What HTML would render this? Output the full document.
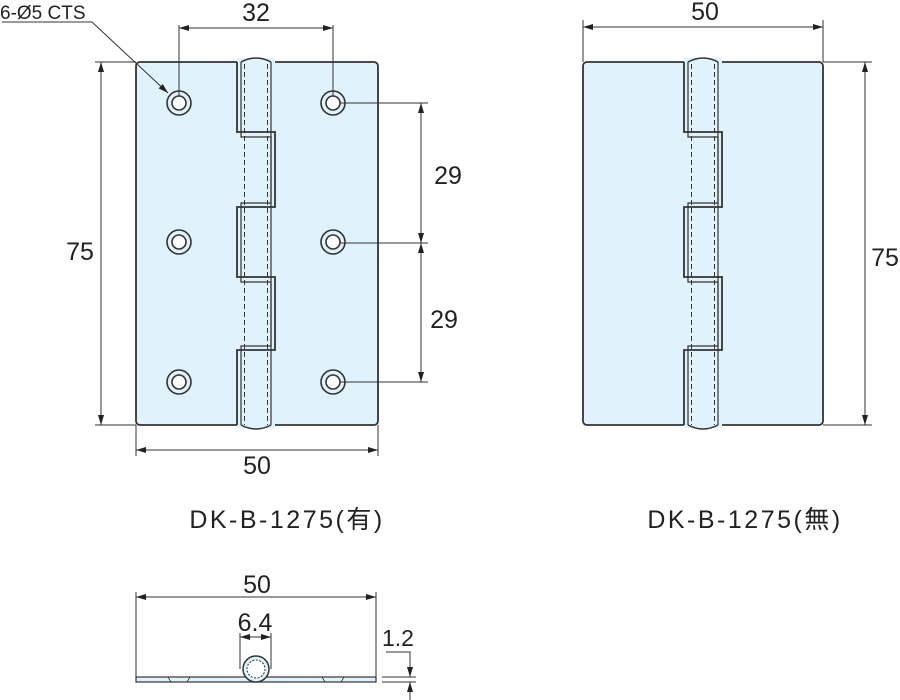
<!DOCTYPE html>
<html><head><meta charset="utf-8"><style>body{margin:0;background:#fff}svg{display:block}text{font-family:"Liberation Sans","Noto Sans CJK JP",sans-serif;fill:#222}</style></head>
<body>
<svg width="900" height="700" viewBox="0 0 900 700" xmlns="http://www.w3.org/2000/svg">
<defs>
<marker id="a" viewBox="0 0 10 6" refX="10" refY="3" markerWidth="10" markerHeight="6" orient="auto-start-reverse" markerUnits="userSpaceOnUse"><path d="M0,0L10,3L0,6z" fill="#222"/></marker>
<g id="knuckle" fill="none" stroke="#333">
<path d="M241,62 Q256,54 271,62" stroke-width="1.5"/>
<path d="M241,425 Q256,433 271,425" stroke-width="1.5"/>
<path d="M237,62V132H275V207H237V277H275V350H237V425" stroke-width="1.8"/>
<path d="M241,62V137H271V203H241V282H271V346H241V425" stroke-width="1.2"/>
<line x1="271" y1="62" x2="271" y2="425" stroke-width="1.2"/>
<line x1="244.5" y1="64" x2="244.5" y2="425" stroke-width="1" stroke-dasharray="5,3"/>
<line x1="267.5" y1="64" x2="267.5" y2="425" stroke-width="1" stroke-dasharray="5,3"/>
</g>
<g id="hole" fill="#fff" stroke="#333" stroke-width="1.6"><circle r="12" fill="#e0f2fb"/><circle r="7"/></g>
</defs>
<rect x="136" y="62" width="242" height="363" rx="4" fill="#e0f2fb" stroke="#333" stroke-width="1.8"/>
<rect x="237" y="58" width="38" height="370" fill="#e0f2fb"/>
<use href="#knuckle"/>
<use href="#hole" x="179" y="103"/><use href="#hole" x="179" y="242"/><use href="#hole" x="179" y="382"/>
<use href="#hole" x="333" y="103"/><use href="#hole" x="333" y="242"/><use href="#hole" x="333" y="382"/>
<g stroke="#333" stroke-width="1" fill="none">
<line x1="179" y1="25" x2="179" y2="96"/><line x1="333" y1="25" x2="333" y2="96"/>
<line x1="179" y1="28" x2="333" y2="28" marker-start="url(#a)" marker-end="url(#a)"/>
<line x1="95" y1="62" x2="136" y2="62"/><line x1="95" y1="425" x2="136" y2="425"/>
<line x1="101" y1="62" x2="101" y2="425" marker-start="url(#a)" marker-end="url(#a)"/>
<line x1="136" y1="425" x2="136" y2="456"/><line x1="378" y1="425" x2="378" y2="456"/>
<line x1="136" y1="450" x2="378" y2="450" marker-start="url(#a)" marker-end="url(#a)"/>
<line x1="340" y1="103" x2="428" y2="103"/><line x1="340" y1="243" x2="428" y2="243"/><line x1="340" y1="382" x2="428" y2="382"/>
<line x1="421" y1="103" x2="421" y2="243" marker-start="url(#a)" marker-end="url(#a)"/>
<line x1="421" y1="243" x2="421" y2="382" marker-start="url(#a)" marker-end="url(#a)"/>
<polyline points="2,22 92,22 168,93" marker-end="url(#a)"/>
</g>
<text x="0" y="19" font-size="19">6-Ø5 CTS</text>
<text x="256" y="21" font-size="25" text-anchor="middle">32</text>
<text x="80" y="260" font-size="25" text-anchor="middle">75</text>
<text x="257" y="474" font-size="25" text-anchor="middle">50</text>
<text x="448" y="184" font-size="25" text-anchor="middle">29</text>
<text x="444" y="328" font-size="25" text-anchor="middle">29</text>
<text x="287" y="528" font-size="25" letter-spacing="2.5" text-anchor="middle">DK-B-1275(有)</text>
<rect x="583" y="62" width="240" height="363" rx="4" fill="#e0f2fb" stroke="#333" stroke-width="1.8"/>
<rect x="684" y="58" width="38" height="370" fill="#e0f2fb"/>
<g transform="translate(447,0)"><use href="#knuckle"/></g>
<g stroke="#333" stroke-width="1" fill="none">
<line x1="583" y1="20" x2="583" y2="62"/><line x1="823" y1="20" x2="823" y2="62"/>
<line x1="583" y1="27" x2="823" y2="27" marker-start="url(#a)" marker-end="url(#a)"/>
<line x1="823" y1="62" x2="872" y2="62"/><line x1="823" y1="425" x2="872" y2="425"/>
<line x1="865" y1="62" x2="865" y2="425" marker-start="url(#a)" marker-end="url(#a)"/>
</g>
<text x="705" y="20" font-size="25" text-anchor="middle">50</text>
<text x="885" y="266" font-size="25" text-anchor="middle">75</text>
<text x="745" y="528" font-size="25" letter-spacing="2.5" text-anchor="middle">DK-B-1275(無)</text>
<rect x="136" y="677" width="240" height="5" fill="#e0f2fb" stroke="#333" stroke-width="1.2"/>
<circle cx="256" cy="669" r="13" fill="#e0f2fb" stroke="#333" stroke-width="1.5"/>
<circle cx="256" cy="669" r="9" fill="#fff" stroke="#333" stroke-width="1" stroke-dasharray="2,1.5"/>
<g stroke="#333" stroke-width="1" fill="none">
<path d="M168,677l3,5M190,677l-3,5M322,677l3,5M344,677l-3,5" stroke-width="0.8"/>
<line x1="136" y1="592" x2="136" y2="677"/><line x1="376" y1="592" x2="376" y2="677"/>
<line x1="136" y1="597" x2="376" y2="597" marker-start="url(#a)" marker-end="url(#a)"/>
<line x1="240" y1="633" x2="240" y2="669"/><line x1="271" y1="633" x2="271" y2="669"/>
<line x1="240" y1="637" x2="271" y2="637" marker-start="url(#a)" marker-end="url(#a)"/>
<line x1="382" y1="677" x2="416" y2="677"/><line x1="382" y1="682" x2="416" y2="682"/>
<polyline points="386,652 410,652 410,677" marker-end="url(#a)"/>
<line x1="410" y1="700" x2="410" y2="682" marker-end="url(#a)"/>
</g>
<text x="257" y="593" font-size="25" text-anchor="middle">50</text>
<text x="255" y="631" font-size="25" text-anchor="middle">6.4</text>
<text x="398" y="646" font-size="23" text-anchor="middle">1.2</text>
</svg>
</body></html>
